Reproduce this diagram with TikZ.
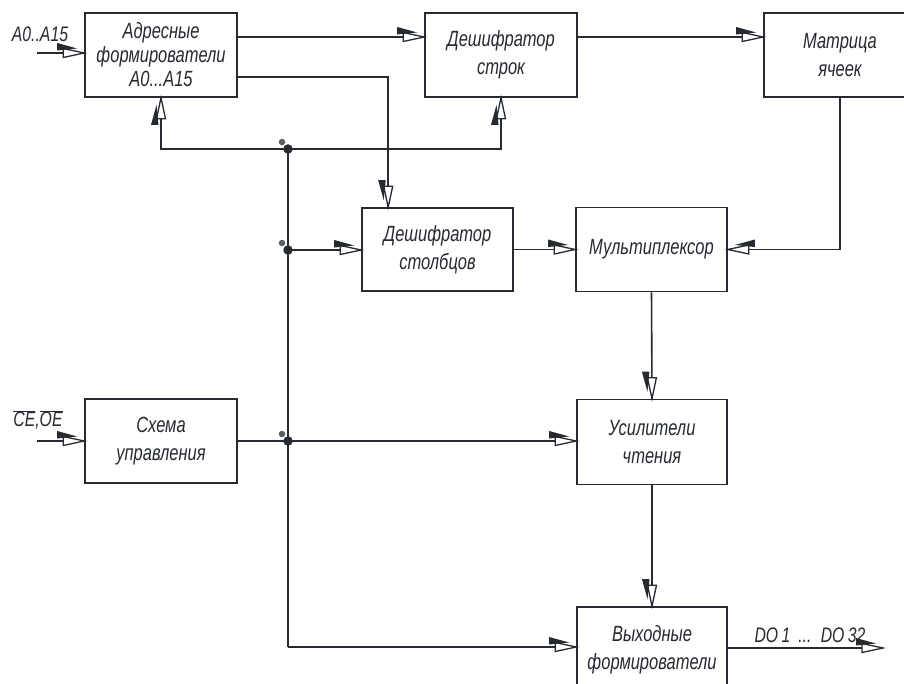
\documentclass[tikz,border=0pt]{standalone}
\usepackage{fontspec}
\setmainfont{Liberation Sans}[FakeStretch=0.75]
\usetikzlibrary{calc,decorations.markings}
\definecolor{ink}{HTML}{262A31}
\definecolor{dotg}{HTML}{5A5F66}
\tikzset{
 blk/.style={draw=ink, line width=1.6pt, minimum width=152pt, minimum height=84pt, align=center, inner sep=0pt, font=\fontsize{22}{28}\selectfont\itshape, text=ink},
 wire/.style={draw=ink, line width=1.6pt},
 arrw/.style={postaction={decorate}, decoration={markings, mark=at position 1 with {
   \fill[white] (0pt,0pt)--(-21pt,4.5pt)--(-21pt,-4.5pt)--cycle;
   \draw[ink, line width=1.3pt, line join=miter] (0pt,0pt)--(-21pt,4.5pt)--(-21pt,-4.5pt)--cycle;
   \fill[ink] (-27pt,#1*2.5pt)--(-27pt,#1*10pt)--(-7pt,#1*4.5pt)--cycle;
 }}},
 jdot/.style={circle, fill=ink, inner sep=0pt, minimum size=9.5pt},
 sdot/.style={circle, fill=dotg, inner sep=0pt, minimum size=6.5pt},
 lbl/.style={font=\fontsize{21}{24}\selectfont\itshape, text=ink, inner sep=0pt}
}
\begin{document}
\begin{tikzpicture}[x=1pt,y=-1pt]
\useasboundingbox (0,0) rectangle (904,684);
\clip (0,0) rectangle (904,684);
\fill[white] (0,0) rectangle (904,684);
% blocks
\node[blk, font=\fontsize{22}{24}\selectfont\itshape] (a1) at (161,55) {Адресные\\формирователи\\A0...A15};
\node[blk] (ds) at (501,55) {Дешифратор\\строк};
\node[blk] (mx) at (840,55) {Матрица\\ячеек};
\node[blk, minimum width=151pt, minimum height=83pt] (dc) at (437.5,249.5) {Дешифратор\\столбцов};
\node[blk, minimum width=151pt] (mu) at (651.5,249.5) {Мультиплексор};
\node[blk] (sx) at (161,441) {Схема\\управления};
\node[blk, minimum width=150pt, minimum height=85pt] (us) at (652,442) {Усилители\\чтения};
\node[blk, minimum width=150pt, minimum height=86pt] (vy) at (652,650) {Выходные\\формирователи};
% junctions
\coordinate (j1) at (288,149);
\coordinate (j2) at (288,250);
\coordinate (j3) at (288,441);
\coordinate (cb) at (288,647);
\coordinate (inA) at (37,53);
\coordinate (inC) at (37,441);
\coordinate (outD) at (883,648);
% wires
\draw[wire,arrw=1] (j1) -| (a1.south);
\draw[wire,arrw=1] (j1) -| (ds.south);
\draw[wire] (j1) -- (cb);
\draw[wire,arrw=1] (j2) -- (dc.west |- j2);
\draw[wire] (sx.east) -- (j3);
\draw[wire,arrw=1] (j3) -- (us.west |- j3);
\draw[wire,arrw=1] (cb) -- (vy.west |- cb);
\draw[wire,arrw=1] ($(a1.east)+(0,-18)$) -- ($(ds.west)+(0,-18)$);
\draw[wire,arrw=1] ($(ds.east)+(0,-18)$) -- ($(mx.west)+(0,-18)$);
\draw[wire,arrw=-1] ($(a1.east)+(0,22)$) -| ($(dc.north west)+(27,0)$);
\draw[wire,arrw=1] (dc.east) -- (mu.west);
\draw[wire,arrw=-1] (mx.south) |- (mu.east);
\draw[wire,arrw=-1] (mu.south) -- (us.north);
\draw[wire,arrw=-1] (us.south) -- (vy.north);
\draw[wire,arrw=1] (inA) -- (a1.west |- inA);
\draw[wire,arrw=1] (inC) -- (sx.west |- inC);
\draw[wire,arrw=1] (vy.east |- outD) -- (outD);
% dots
\node[jdot] (d1) at (j1) {};
\node[jdot] (d2) at (j2) {};
\node[jdot] (d3) at (j3) {};
\node[sdot] (s1) at ($(j1)+(-6,-7)$) {};
\node[sdot] (s2) at ($(j2)+(-6,-7)$) {};
\node[sdot] (s3) at ($(j3)+(-6,-7)$) {};
% labels
\node[lbl] (la) at (40,34) {A0..A15};
\node[lbl] (lc) at (38,420) {$\overline{\hbox{CE}}$,$\overline{\hbox{OE}}$};
\node[lbl] (ld) at (810,635) {DO\,1\, ...\, DO\,32};
\end{tikzpicture}
\end{document}
